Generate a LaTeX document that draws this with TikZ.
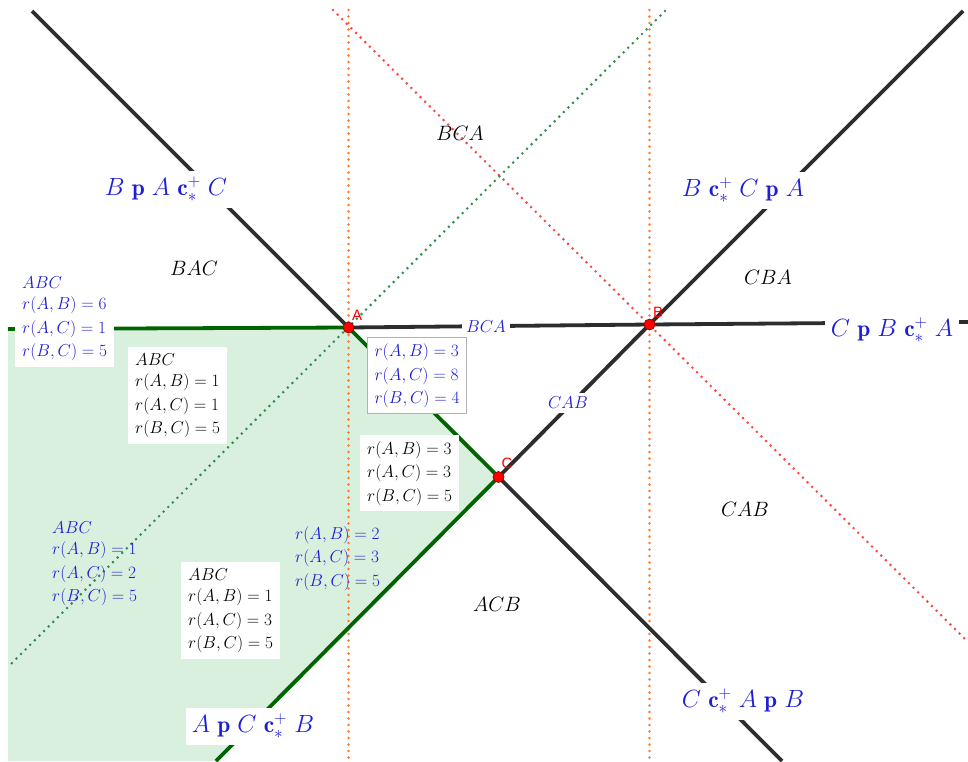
\documentclass[tikz,border=0pt]{standalone}
\usepackage{fontspec}
\newfontfamily\ptfont{Liberation Sans}
\definecolor{lblue}{RGB}{30,30,215}
\definecolor{dgreen}{RGB}{0,100,0}
\definecolor{fillg}{RGB}{217,240,222}
\definecolor{lorange}{RGB}{255,120,40}
\definecolor{lred}{RGB}{250,70,70}
\definecolor{gdot}{RGB}{50,140,80}
\definecolor{lgrey}{RGB}{45,45,45}
\begin{document}
\begin{tikzpicture}[x=1pt,y=-1pt,
  blackline/.style={draw=lgrey, line width=3.8pt},
  greenline/.style={draw=dgreen, line width=3.8pt, line join=round},
  dotline/.style={line width=2.9pt, dash pattern=on 0pt off 6.5pt, line cap=round},
  region/.style={font=\fontsize{22.5}{26}\selectfont, anchor=base, inner sep=0pt},
  rel/.style={font=\fontsize{23.5}{27}\selectfont, text=lblue, fill=white, inner xsep=6pt, inner ysep=6pt, anchor=base},
  smalllbl/.style={font=\fontsize{16.5}{19}\selectfont, text=lblue, fill=white, inner sep=4pt, anchor=base},
  infobox/.style={fill=white, align=left, font=\fontsize{17}{23.5}\selectfont, inner xsep=7pt, inner ysep=6pt, anchor=north west},
  ptdot/.style={circle, fill=red, draw=red!60!black, line width=0.7pt, inner sep=0pt, minimum size=11pt},
  ptlbl/.style={text=red, font=\ptfont\fontsize{15}{17}\selectfont, inner sep=1pt}
]
\useasboundingbox (0,0) rectangle (968,761);
\fill[white] (0,0) rectangle (968,761);
% key points
\coordinate (A) at (348.5,327.5);
\coordinate (B) at (649.5,324.5);
\coordinate (C) at (498.5,477);
\coordinate (tl) at (32,11);
\coordinate (brd) at (782,761);
\coordinate (tr) at (963,11);
\coordinate (bld) at (216,761);
\coordinate (hl) at (8,329);
\coordinate (hr) at (968,322);
\coordinate (fbl) at (8,761);
\coordinate (oAt) at (348.5,10);
\coordinate (oAb) at (348.5,761);
\coordinate (oBt) at (649.5,10);
\coordinate (oBb) at (649.5,761);
\coordinate (rt) at (333,10);
\coordinate (rb) at (968,642);
\coordinate (gt) at (665,11);
\coordinate (gb) at (8,667);
% region fill
\fill[fillg] (hl) -- (A) -- (C) -- (bld) -- (fbl) -- cycle;
% dotted lines
\draw[dotline, lorange] (oAt) -- (oAb);
\draw[dotline, lorange] (oBt) -- (oBb);
\draw[dotline, lred] (rt) -- (rb);
\draw[dotline, gdot] (gt) -- (gb);
% solid lines
\draw[blackline] (tl) -- (A);
\draw[blackline] (C) -- (brd);
\draw[blackline] (tr) -- (B) -- (C);
\draw[blackline] (A) -- (B) -- (hr);
\draw[greenline] (hl) -- (A) -- (C) -- (bld);
% region labels
\node[region] (rBCA) at (460,140) {$BCA$};
\node[region] (rBAC) at (194,275) {$BAC$};
\node[region] (rCBA) at (768,284) {$CBA$};
\node[region] (rCAB) at (745,516) {$CAB$};
\node[region] (rACB) at (497,611) {$ACB$};
% relation labels
\node[rel] (l1) at (166,195.5) {$B\ \mathbf{p}\ A\ \mathbf{c}^+_*\ C$};
\node[rel] (l2) at (743,196.5) {$B\ \mathbf{c}^+_*\ C\ \mathbf{p}\ A$};
\node[rel] (l3) at (892,336.5) {$C\ \mathbf{p}\ B\ \mathbf{c}^+_*\ A$};
\node[rel] (l4) at (743,707.5) {$C\ \mathbf{c}^+_*\ A\ \mathbf{p}\ B$};
\node[rel] (l5) at (253,732.5) {$A\ \mathbf{p}\ C\ \mathbf{c}^+_*\ B$};
\node[smalllbl] (sBCA) at (486,332.5) {$BCA$};
\node[smalllbl] (sCAB) at (568,408.5) {$CAB$};
% info boxes
\node[infobox, text=lblue] (b1) at (15,270) {$ABC$\\[-2pt]$r(A,B)=6$\\$r(A,C)=1$\\$r(B,C)=5$};
\node[infobox] (b2) at (128,347) {$ABC$\\[-2pt]$r(A,B)=1$\\$r(A,C)=1$\\$r(B,C)=5$};
\node[infobox, text=lblue, draw=gray!60, line width=1.2pt] (b3) at (367,337) {$r(A,B)=3$\\$r(A,C)=8$\\$r(B,C)=4$};
\node[infobox] (b4) at (360,435) {$r(A,B)=3$\\$r(A,C)=3$\\$r(B,C)=5$};
\node[infobox, fill=none, text=lblue] (b5) at (288,520) {$r(A,B)=2$\\$r(A,C)=3$\\$r(B,C)=5$};
\node[infobox, fill=none, text=lblue] (b6) at (45,515) {$ABC$\\[-2pt]$r(A,B)=1$\\$r(A,C)=2$\\$r(B,C)=5$};
\node[infobox] (b7) at (181,562) {$ABC$\\[-2pt]$r(A,B)=1$\\$r(A,C)=3$\\$r(B,C)=5$};
% points
\node[ptdot] (pA) at (A) {};
\node[ptdot] (pB) at (B) {};
\node[ptdot] (pC) at (C) {};
\node[ptlbl] (tA) at (357,315) {A};
\node[ptlbl] (tB) at (658,312) {B};
\node[ptlbl] (tC) at (507,463) {C};
\end{tikzpicture}
\end{document}
